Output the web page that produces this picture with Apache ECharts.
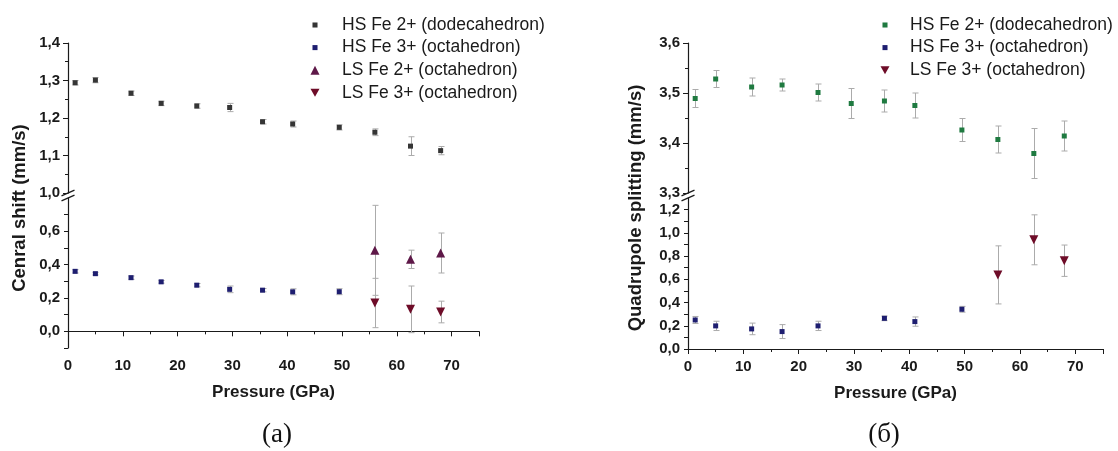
<!DOCTYPE html>
<html>
<head>
<meta charset="utf-8">
<script src="https://cdn.jsdelivr.net/npm/echarts@6/dist/echarts.min.js"></script>
<style>
  html, body { margin: 0; padding: 0; background: #ffffff; }
  #chart { width: 1118px; height: 451px; }
</style>
</head>
<body>
<div id="chart"></div>
<script>
// Pressure points (GPa)
const pressureAll = [1.3, 5, 11.5, 17, 23.5, 29.5, 35.5, 41, 49.5, 56, 62.5, 68];
const pressureCsHs3 = [1.3, 5, 11.5, 17, 23.5, 29.5, 35.5, 41, 49.5];
const pressureQsHs3 = [1.3, 5, 11.5, 17, 23.5, 35.5, 41, 49.5];
const pressureLs = [56, 62.5, 68];

// (a) Central shift, mm/s
const csHsFe2 = [1.294, 1.301, 1.266, 1.239, 1.232, 1.228, 1.190, 1.184, 1.175, 1.162, 1.125, 1.113];
const csHsFe2Err = [0.006, 0.007, 0.006, 0.006, 0.006, 0.011, 0.006, 0.008, 0.007, 0.009, 0.025, 0.011];
const csHsFe3 = [0.360, 0.346, 0.322, 0.297, 0.277, 0.252, 0.247, 0.237, 0.238];
const csHsFe3Err = [0.010, 0.008, 0.010, 0.008, 0.010, 0.020, 0.010, 0.018, 0.018];
const csLsFe2 = [0.486, 0.432, 0.470];
const csLsFe2Err = [0.270, 0.055, 0.120];
const csLsFe3 = [0.170, 0.132, 0.116];
const csLsFe3Err = [0.148, 0.140, 0.065];

// (б) Quadrupole splitting, mm/s
const qsHsFe2 = [3.489, 3.528, 3.512, 3.516, 3.501, 3.479, 3.484, 3.475, 3.426, 3.407, 3.379, 3.414];
const qsHsFe2Err = [0.018, 0.017, 0.018, 0.012, 0.017, 0.030, 0.022, 0.025, 0.023, 0.027, 0.050, 0.030];
const qsHsFe3 = [0.250, 0.199, 0.173, 0.150, 0.199, 0.264, 0.236, 0.342];
const qsHsFe3Err = [0.030, 0.040, 0.050, 0.060, 0.040, 0.020, 0.040, 0.025];
const qsLsFe3 = [0.638, 0.940, 0.760];
const qsLsFe3Err = [0.250, 0.215, 0.135];

// Series names and labels
const nameHs2 = 'HS Fe 2+ (dodecahedron)';
const nameHs3 = 'HS Fe 3+ (octahedron)';
const nameLs2 = 'LS Fe 2+ (octahedron)';
const nameLs3 = 'LS Fe 3+ (octahedron)';
const xTitle = 'Pressure (GPa)';
const yTitleA = 'Cenral shift (mm/s)';
const yTitleB = 'Quadrupole splitting (mm/s)';
const panelA = '(a)';
const panelB = '(б)';

// Colours
const cGrey = '#353535';
const cNavy = '#1e1e70';
const cPurple = '#5e1848';
const cMaroon = '#6e0c28';
const cGreen = '#1f7a40';
const cErr = '#ababab';

const FONT = '"Liberation Sans", Arial, sans-serif';
const comma = v => v.toFixed(1).replace('.', ',');

function points(xs, ys, es) {
  return xs.map((x, i) => [x, ys[i], es[i]]);
}

function scatter(name, xs, ys, es, xi, yi, symbol, size, color) {
  return {
    name: name, type: 'scatter', xAxisIndex: xi, yAxisIndex: yi,
    symbol: symbol, symbolSize: size, z: 3,
    itemStyle: { color: color, opacity: 1 },
    encode: { x: 0, y: 1 },
    data: points(xs, ys, es)
  };
}

function errorBars(xs, ys, es, xi, yi, color) {
  return {
    type: 'custom', xAxisIndex: xi, yAxisIndex: yi, silent: true, z: 2,
    encode: { x: 0, y: 1 },
    data: points(xs, ys, es),
    renderItem: function (params, api) {
      const x = api.value(0), y = api.value(1), e = api.value(2);
      const hi = api.coord([x, y + e]);
      const lo = api.coord([x, y - e]);
      const cx = Math.round(hi[0]) + 0.5;
      const w = 3;
      const st = { stroke: color, lineWidth: 1 };
      return {
        type: 'group',
        children: [
          { type: 'line', shape: { x1: cx, y1: hi[1], x2: cx, y2: lo[1] }, style: st },
          { type: 'line', shape: { x1: cx - w, y1: hi[1], x2: cx + w, y2: hi[1] }, style: st },
          { type: 'line', shape: { x1: cx - w, y1: lo[1], x2: cx + w, y2: lo[1] }, style: st }
        ]
      };
    }
  };
}

const axisLine = { show: true, lineStyle: { color: '#1a1a1a', width: 1.2 } };
const tickLabel = { color: '#1a1a1a', fontFamily: FONT, fontWeight: 'bold', fontSize: 15, margin: 8 };

function xAxisDef(gridIndex, shown) {
  return {
    type: 'value', gridIndex: gridIndex, min: 0, max: 75, interval: 10,
    show: shown,
    axisLine: axisLine,
    axisTick: { show: true, inside: false, length: 5, lineStyle: { color: '#1a1a1a' } },
    minorTick: { show: true, splitNumber: 2, length: 3, lineStyle: { color: '#1a1a1a' } },
    splitLine: { show: false },
    axisLabel: Object.assign({}, tickLabel, { showMaxLabel: false, margin: 10 }),
    name: shown ? xTitle : '',
    nameLocation: 'middle', nameGap: 36,
    nameTextStyle: { fontFamily: FONT, fontWeight: 'bold', fontSize: 17, color: '#1a1a1a' }
  };
}

function yAxisDef(gridIndex, min, max, interval, opts) {
  return Object.assign({
    type: 'value', gridIndex: gridIndex, min: min, max: max, interval: interval,
    axisLine: axisLine,
    axisTick: { show: true, inside: false, length: 5, lineStyle: { color: '#1a1a1a' } },
    minorTick: { show: true, splitNumber: 2, length: 3, lineStyle: { color: '#1a1a1a' } },
    splitLine: { show: false },
    axisLabel: Object.assign({}, tickLabel, { formatter: comma })
  }, opts || {});
}

// Lower axes step by 0.1 with labels on every other tick
const evenLabels = v => (Math.round(v * 10) % 2 === 0 ? comma(v) : '');

// Grid layout
const gA = { left: 68, width: 411 };
const gB = { left: 688, width: 415 };

const grids = [
  { left: gA.left, width: gA.width, top: 43, height: 150 },   // (a) upper
  { left: gA.left, width: gA.width, top: 198, height: 150 },  // (a) lower
  { left: gB.left, width: gB.width, top: 43, height: 150 },   // (б) upper
  { left: gB.left, width: gB.width, top: 198, height: 151 }   // (б) lower
];

const legendText = { fontFamily: FONT, fontSize: 17.5, color: '#1a1a1a', lineHeight: 18 };
const squareIcon = 'path://M0,0M10,10M2.2,2.2h5.6v5.6h-5.6z';
const downTriangle = 'path://M0,0L10,0L5,9z';

// Break marks on the broken y axes
function breakMarks(axisX, yTop, yBottom) {
  const dx = 6.5, dy = 2.8;
  const st = { stroke: '#1a1a1a', lineWidth: 1.3 };
  return [yTop, yBottom].map(y => ({
    type: 'line', z: 10,
    shape: { x1: axisX - dx, y1: y + dy, x2: axisX + dx, y2: y - dy },
    style: st
  }));
}

const option = {
  animation: false,
  backgroundColor: '#ffffff',
  grid: grids,
  xAxis: [xAxisDef(0, false), xAxisDef(1, true), xAxisDef(2, false), xAxisDef(3, true)],
  yAxis: [
    yAxisDef(0, 1.0, 1.4, 0.1),
    yAxisDef(1, -0.1, 0.8, 0.1, {
      minorTick: { show: false },
      axisTick: { show: true, length: 4, lineStyle: { color: '#1a1a1a' } },
      axisLabel: Object.assign({}, tickLabel, { formatter: evenLabels, showMaxLabel: false })
    }),
    yAxisDef(2, 3.3, 3.6, 0.1),
    yAxisDef(3, 0, 1.3, 0.1, {
      minorTick: { show: false },
      axisTick: { show: true, length: 4, lineStyle: { color: '#1a1a1a' } },
      axisLabel: Object.assign({}, tickLabel, { formatter: evenLabels, showMaxLabel: false })
    })
  ],
  legend: [
    {
      orient: 'vertical', left: 305.5, top: 11, itemWidth: 9, itemHeight: 9, itemGap: 4.6,
      selectedMode: false, textStyle: Object.assign({ padding: [0, 0, 0, 17.5] }, legendText),
      data: [
        { name: nameHs2, icon: squareIcon, itemStyle: { color: cGrey } },
        { name: nameHs3, icon: squareIcon, itemStyle: { color: cNavy } },
        { name: nameLs2, icon: 'triangle', itemStyle: { color: cPurple } },
        { name: nameLs3, icon: downTriangle, itemStyle: { color: cMaroon } }
      ]
    },
    {
      orient: 'vertical', left: 875.5, top: 11, itemWidth: 9, itemHeight: 9, itemGap: 4.6,
      selectedMode: false, textStyle: Object.assign({ padding: [0, 0, 0, 15.5] }, legendText),
      data: [
        { name: nameHs2, icon: squareIcon, itemStyle: { color: cGreen } },
        { name: nameHs3, icon: squareIcon, itemStyle: { color: cNavy } },
        { name: nameLs3, icon: downTriangle, itemStyle: { color: cMaroon } }
      ]
    }
  ],
  series: [
    // (a) central shift
    errorBars(pressureAll, csHsFe2, csHsFe2Err, 0, 0, cErr),
    scatter(nameHs2, pressureAll, csHsFe2, csHsFe2Err, 0, 0, 'rect', 5, cGrey),
    errorBars(pressureCsHs3, csHsFe3, csHsFe3Err, 1, 1, cErr),
    scatter(nameHs3, pressureCsHs3, csHsFe3, csHsFe3Err, 1, 1, 'rect', 5, cNavy),
    errorBars(pressureLs, csLsFe2, csLsFe2Err, 1, 1, cErr),
    scatter(nameLs2, pressureLs, csLsFe2, csLsFe2Err, 1, 1, 'triangle', 9, cPurple),
    errorBars(pressureLs, csLsFe3, csLsFe3Err, 1, 1, cErr),
    scatter(nameLs3, pressureLs, csLsFe3, csLsFe3Err, 1, 1, downTriangle, 9, cMaroon),
    // (б) quadrupole splitting
    errorBars(pressureAll, qsHsFe2, qsHsFe2Err, 2, 2, cErr),
    scatter(nameHs2, pressureAll, qsHsFe2, qsHsFe2Err, 2, 2, 'rect', 5, cGreen),
    errorBars(pressureQsHs3, qsHsFe3, qsHsFe3Err, 3, 3, cErr),
    scatter(nameHs3, pressureQsHs3, qsHsFe3, qsHsFe3Err, 3, 3, 'rect', 5, cNavy),
    errorBars(pressureLs, qsLsFe3, qsLsFe3Err, 3, 3, cErr),
    scatter(nameLs3, pressureLs, qsLsFe3, qsLsFe3Err, 3, 3, downTriangle, 9, cMaroon)
  ],
  graphic: [].concat(
    breakMarks(gA.left, 193, 198),
    breakMarks(gB.left, 193, 198),
    [
      { type: 'text', x: 20, y: 208, rotation: Math.PI / 2,
        style: { text: yTitleA, font: 'bold 18.5px ' + FONT, fill: '#1a1a1a', textAlign: 'center', textVerticalAlign: 'middle' } },
      { type: 'text', x: 636, y: 208, rotation: Math.PI / 2,
        style: { text: yTitleB, font: 'bold 18.5px ' + FONT, fill: '#1a1a1a', textAlign: 'center', textVerticalAlign: 'middle' } },
      { type: 'text', x: 277, y: 435,
        style: { text: panelA, font: '27px "Liberation Serif", "Times New Roman", serif', fill: '#111', textAlign: 'center', textVerticalAlign: 'middle' } },
      { type: 'text', x: 884, y: 435,
        style: { text: panelB, font: '27px "Liberation Serif", "Times New Roman", serif', fill: '#111', textAlign: 'center', textVerticalAlign: 'middle' } }
    ]
  )
};

const chart = echarts.init(document.getElementById('chart'), null, { renderer: 'canvas' });
chart.setOption(option);
</script>
</body>
</html>
